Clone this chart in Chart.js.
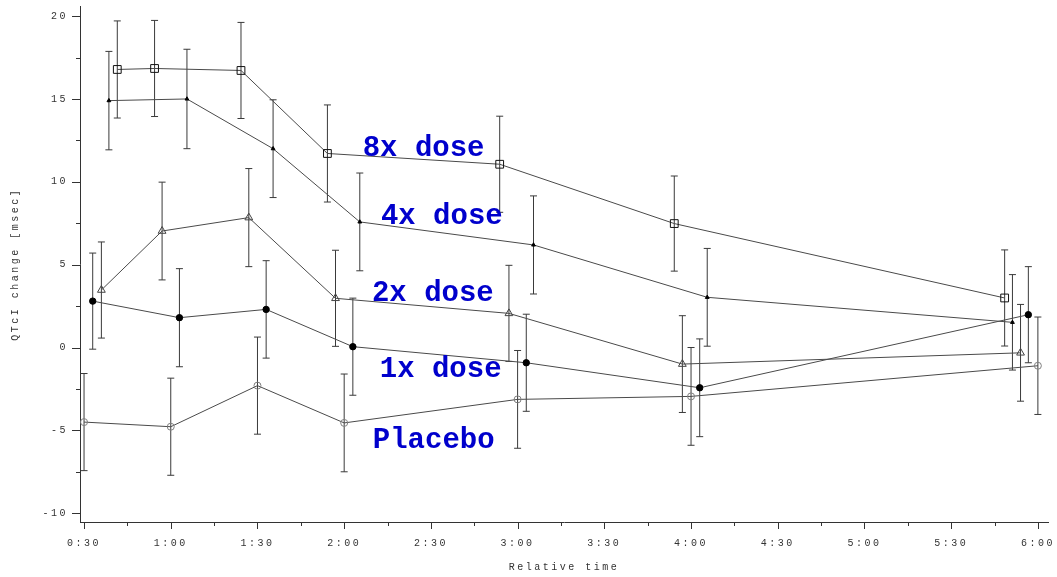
<!DOCTYPE html>
<html>
<head>
<meta charset="utf-8">
<script src="https://cdn.jsdelivr.net/npm/chart.js@4"></script>
<style>
  html, body { margin: 0; padding: 0; background: #fff; }
  #wrap { width: 1057px; height: 577px; }
</style>
</head>
<body>
<div id="wrap"><canvas id="qtChart"></canvas></div>
<script>
// sampling times in minutes (each group is nudged a little so the bars don't overlap)
const placeboTimes = [30, 60, 90, 120, 180, 240, 360];
const dose1xTimes = [33, 63, 93, 123, 183, 243, 356.7];
const dose2xTimes = [36, 57, 87, 117, 177, 237, 354];
const dose4xTimes = [38.6, 65.6, 95.4, 125.4, 185.5, 245.6, 351.2];
const dose8xTimes = [41.5, 54.4, 84.3, 114.2, 173.8, 234.2, 348.5];

// mean QTcI change [msec]
const placeboMeans = [-4.5, -4.78, -2.3, -4.55, -3.13, -2.95, -1.1];
const dose1xMeans = [2.8, 1.8, 2.3, 0.05, -0.92, -2.43, 1.98];
const dose2xMeans = [3.47, 7.03, 7.84, 2.97, 2.06, -1.0, -0.32];
const dose4xMeans = [14.9, 15.0, 12.0, 7.58, 6.19, 3.03, 1.52];
const dose8xMeans = [16.78, 16.84, 16.72, 11.71, 11.06, 7.48, 2.99];

// half length of the error bars
const placeboErr = [2.93, 2.93, 2.93, 2.95, 2.95, 2.95, 2.94];
const dose1xErr = [2.9, 2.96, 2.94, 2.93, 2.93, 2.95, 2.9];
const dose2xErr = [2.9, 2.95, 2.96, 2.9, 2.9, 2.92, 2.92];
const dose4xErr = [2.97, 3.0, 2.95, 2.95, 2.96, 2.95, 2.88];
const dose8xErr = [2.93, 2.9, 2.9, 2.93, 2.9, 2.87, 2.9];

// group names written inside the plot, anchored at (time, value) of their left baseline
const groupNames = ['8x dose', '4x dose', '2x dose', '1x dose', 'Placebo'];
const nameTimes = [126.4, 132.7, 129.6, 132.3, 129.9];
const nameValues = [11.57, 7.43, 2.8, -1.8, -6.05];

const lineColor = '#4a4a4a';

function series(times, means, errs) {
  return times.map((t, i) => ({ x: t, y: means[i], err: errs[i] }));
}

const datasets = [
  { data: series(placeboTimes, placeboMeans, placeboErr), pointStyle: 'circle', pointRadius: 3.5,
    pointBorderColor: '#808080', pointBackgroundColor: 'rgba(0,0,0,0)' },
  { data: series(dose1xTimes, dose1xMeans, dose1xErr), pointStyle: 'circle', pointRadius: 3.2,
    pointBorderColor: '#000', pointBackgroundColor: '#000' },
  { data: series(dose2xTimes, dose2xMeans, dose2xErr), pointStyle: 'triangle', pointRadius: 4.5,
    pointBorderColor: '#444', pointBackgroundColor: 'rgba(0,0,0,0)' },
  { data: series(dose4xTimes, dose4xMeans, dose4xErr), pointStyle: 'triangle', pointRadius: 2.2,
    pointBorderColor: '#000', pointBackgroundColor: '#000' },
  { data: series(dose8xTimes, dose8xMeans, dose8xErr), pointStyle: 'rect', pointRadius: 5.5,
    pointBorderColor: '#111', pointBackgroundColor: 'rgba(0,0,0,0)' }
].map(d => Object.assign({
  borderColor: lineColor,
  borderWidth: 1,
  pointBorderWidth: 1,
  tension: 0,
  fill: false
}, d));

// vertical error bars with small caps, drawn under the markers
const errorBars = {
  id: 'errorBars',
  beforeDatasetsDraw(chart) {
    const { ctx, scales: { x, y } } = chart;
    ctx.save();
    ctx.strokeStyle = '#3a3a3a';
    ctx.lineWidth = 1;
    chart.data.datasets.forEach(ds => {
      ds.data.forEach(p => {
        const px = x.getPixelForValue(p.x);
        const top = y.getPixelForValue(p.y + p.err);
        const bot = y.getPixelForValue(p.y - p.err);
        ctx.beginPath();
        ctx.moveTo(px, top); ctx.lineTo(px, bot);
        ctx.moveTo(px - 3.5, top); ctx.lineTo(px + 3.5, top);
        ctx.moveTo(px - 3.5, bot); ctx.lineTo(px + 3.5, bot);
        ctx.stroke();
      });
    });
    ctx.restore();
  }
};

// major/minor tick marks on both axes
const tickMarks = {
  id: 'tickMarks',
  afterDraw(chart) {
    const { ctx, chartArea, scales: { x, y } } = chart;
    ctx.save();
    ctx.strokeStyle = '#333';
    ctx.lineWidth = 1;
    ctx.beginPath();
    x.ticks.forEach(t => {
      const px = Math.round(x.getPixelForValue(t.value)) + 0.5;
      const len = t.value % 30 === 0 ? 7 : 4;
      ctx.moveTo(px, chartArea.bottom); ctx.lineTo(px, chartArea.bottom + len);
    });
    y.ticks.forEach(t => {
      const py = Math.round(y.getPixelForValue(t.value)) + 0.5;
      const len = t.value % 5 === 0 ? 8 : 4;
      ctx.moveTo(chartArea.left - len, py); ctx.lineTo(chartArea.left, py);
    });
    ctx.stroke();
    ctx.restore();
  }
};

const groupLabels = {
  id: 'groupLabels',
  afterDatasetsDraw(chart) {
    const { ctx, scales: { x, y } } = chart;
    ctx.save();
    ctx.letterSpacing = '0px';
    ctx.font = 'bold 29px "Liberation Mono", "Courier New", monospace';
    ctx.fillStyle = '#0000cc';
    ctx.textAlign = 'left';
    ctx.textBaseline = 'alphabetic';
    groupNames.forEach((name, i) => {
      ctx.fillText(name, x.getPixelForValue(nameTimes[i]), y.getPixelForValue(nameValues[i]));
    });
    ctx.restore();
  }
};

// the axis text in the original is widely spaced
const spacedText = {
  id: 'spacedText',
  beforeDraw(chart) { chart.ctx.letterSpacing = '2.5px'; },
  afterDraw(chart) { chart.ctx.letterSpacing = '0px'; }
};

const axisFont = { family: '"Liberation Mono", "DejaVu Sans Mono", monospace', size: 10 };

new Chart(document.getElementById('qtChart'), {
  type: 'line',
  data: { datasets },
  options: {
    responsive: true,
    maintainAspectRatio: false,
    animation: false,
    layout: { padding: { top: 4, right: 9, left: 0, bottom: 0 } },
    plugins: { legend: { display: false }, tooltip: { enabled: false } },
    scales: {
      x: {
        type: 'linear',
        min: 28.6,
        max: 363.5,
        grid: { display: false },
        border: { display: true, color: '#333' },
        ticks: {
          stepSize: 15,
          includeBounds: false,
          autoSkip: false,
          maxRotation: 0,
          padding: 7,
          color: '#333',
          font: axisFont,
          callback: v => v % 30 === 0 ? Math.floor(v / 60) + ':' + String(v % 60).padStart(2, '0') : ''
        },
        title: { display: true, text: 'Relative time', color: '#333', font: axisFont, padding: { top: 8 } },
        afterFit(scale) {
          scale.height = 55;
          scale.paddingLeft = 0; scale.paddingRight = 0;
        }
      },
      y: {
        type: 'linear',
        min: -10.53,
        max: 20.58,
        grid: { display: false },
        border: { display: true, color: '#333' },
        ticks: {
          stepSize: 2.5,
          includeBounds: false,
          padding: 4,
          color: '#333',
          font: axisFont,
          callback: v => v % 5 === 0 ? String(v) : ''
        },
        title: { display: true, text: 'QTcI change [msec]', color: '#333', font: axisFont, padding: { top: 9 } },
        afterFit(scale) {
          scale.width = 80;
          scale.paddingTop = 0; scale.paddingBottom = 0;
        }
      }
    }
  },
  plugins: [spacedText, errorBars, groupLabels, tickMarks]
});
</script>
</body>
</html>
